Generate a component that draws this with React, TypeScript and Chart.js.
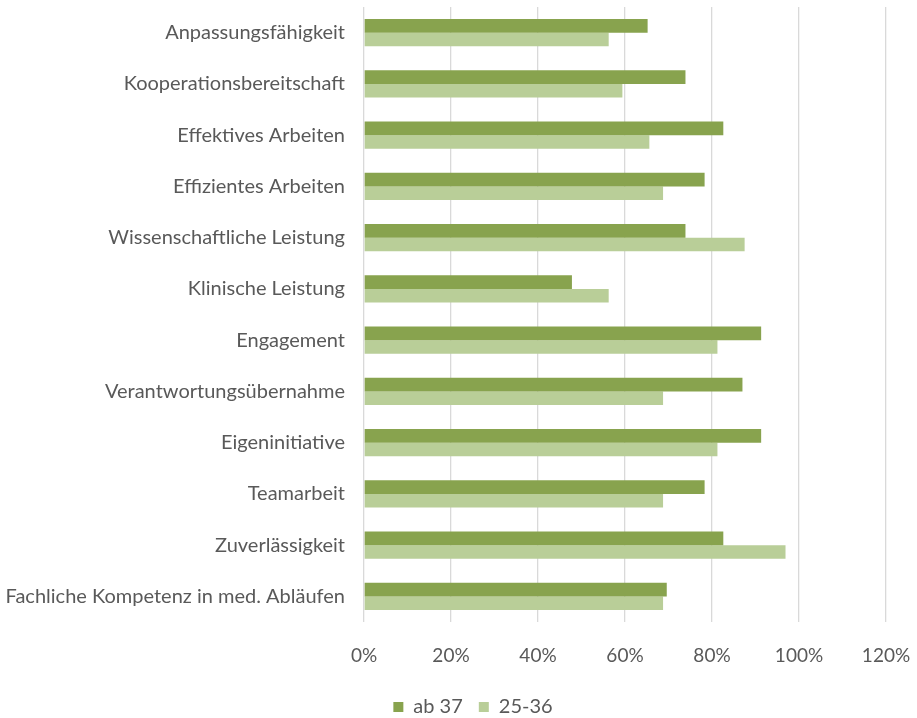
import React, { useEffect, useRef } from "react";
import { Chart, registerables } from "chart.js";

Chart.register(...registerables);

const categories = [
  "Anpassungsfähigkeit",
  "Kooperationsbereitschaft",
  "Effektives Arbeiten",
  "Effizientes Arbeiten",
  "Wissenschaftliche Leistung",
  "Klinische Leistung",
  "Engagement",
  "Verantwortungsübernahme",
  "Eigeninitiative",
  "Teamarbeit",
  "Zuverlässigkeit",
  "Fachliche Kompetenz in med. Abläufen",
];

const seriesAb37 = [65.2, 73.9, 82.6, 78.3, 73.9, 47.8, 91.3, 87.0, 91.3, 78.3, 82.6, 69.6];
const series25to36 = [56.25, 59.4, 65.6, 68.75, 87.5, 56.25, 81.25, 68.75, 81.25, 68.75, 96.9, 68.75];

const seriesNames = ["ab 37", "25-36"];
const xTicks = [0, 20, 40, 60, 80, 100, 120];

const FONT = "Lato";

export default function App() {
  const ref = useRef<HTMLCanvasElement | null>(null);

  useEffect(() => {
    if (!ref.current) return;
    const zeroPad = (scale: any) => {
      scale.paddingLeft = 0;
      scale.paddingRight = 0;
      scale.paddingTop = 0;
      scale.paddingBottom = 0;
    };
    const shiftLegend = {
      id: "shiftLegend",
      afterLayout(chart: any) {
        const lg = chart.legend;
        if (lg) {
          lg.left += 30;
          lg.right += 30;
        }
      },
    };
    const chart = new Chart(ref.current, {
      type: "bar",
      data: {
        labels: categories,
        datasets: [
          {
            label: seriesNames[0],
            data: seriesAb37,
            backgroundColor: "#88A34E",
            borderWidth: 0,
            categoryPercentage: 0.53,
            barPercentage: 1,
          },
          {
            label: seriesNames[1],
            data: series25to36,
            backgroundColor: "#B9CE98",
            borderWidth: 0,
            categoryPercentage: 0.53,
            barPercentage: 1,
          },
        ],
      },
      plugins: [shiftLegend],
      options: {
        indexAxis: "y",
        animation: false,
        responsive: false,
        maintainAspectRatio: false,
        layout: { padding: { top: 7, right: 31, bottom: -9, left: 0 } },
        plugins: {
          tooltip: { enabled: false },
          legend: {
            position: "bottom",
            labels: {
              boxWidth: 10,
              boxHeight: 10,
              padding: 16,
              color: "#595959",
              font: { family: FONT, size: 20 },
            },
          },
        },
        scales: {
          x: {
            min: 0,
            max: 120,
            afterBuildTicks: (scale: any) => {
              scale.ticks = xTicks.map((v) => ({ value: v }));
            },
            afterFit: (scale: any) => {
              zeroPad(scale);
              scale.height = 59;
            },
            grid: { color: "#D9D9D9", lineWidth: 1.3, drawTicks: false },
            border: { display: false },
            ticks: {
              color: "#595959",
              padding: 22,
              font: { family: FONT, size: 19 },
              callback: (v: any) => v + "%",
            },
          },
          y: {
            afterFit: (scale: any) => {
              zeroPad(scale);
              scale.width = 364;
            },
            grid: { display: false, drawTicks: false },
            border: { display: false },
            ticks: {
              color: "#595959",
              padding: 19,
              font: { family: FONT, size: 20 },
            },
          },
        },
      },
    });
    return () => chart.destroy();
  }, []);

  return (
    <div style={{ position: "fixed", left: 0, top: 0, width: 917, height: 718, background: "#fff" }}>
      <canvas ref={ref} width={917} height={718} />
    </div>
  );
}
